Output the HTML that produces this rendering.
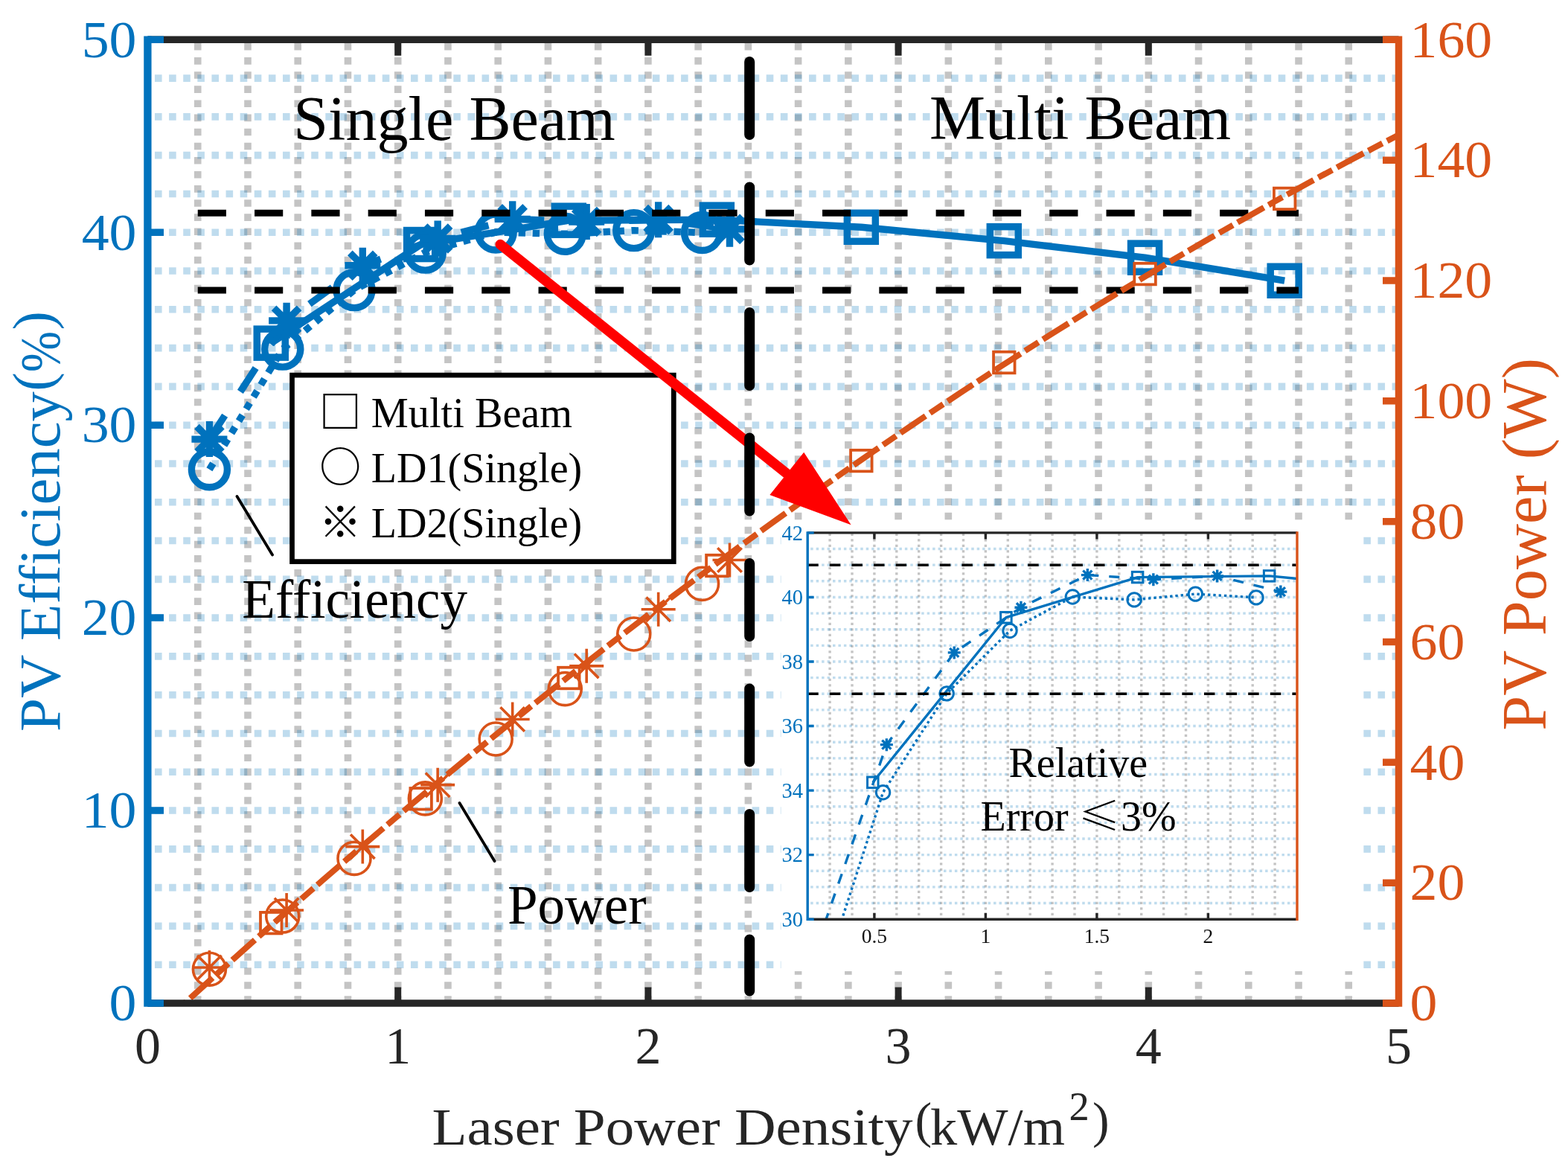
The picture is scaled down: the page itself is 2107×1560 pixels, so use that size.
<!DOCTYPE html>
<html><head><meta charset="utf-8"><title>PV Efficiency and Power vs Laser Power Density</title>
<style>html,body{margin:0;padding:0;background:#fff;width:2107px;height:1560px;overflow:hidden}svg{display:block}</style>
</head><body>
<svg width="2107" height="1560" viewBox="0 0 2107 1560">
<defs>
<clipPath id="cm"><rect x="198.5" y="53.3" width="1681" height="1294.7"/></clipPath>
<clipPath id="ci"><rect x="1085.2" y="715.9" width="657.8" height="519.3"/></clipPath>
</defs>
<rect width="2107" height="1560" fill="#fff"/>
<g clip-path="url(#cm)">
<path d="M265.74 58V1348M332.98 58V1348M400.22 58V1348M467.46 58V1348M534.7 58V1348M601.94 58V1348M669.18 58V1348M736.42 58V1348M803.66 58V1348M870.9 58V1348M938.14 58V1348M1005.38 58V1348M1072.62 58V1348M1139.86 58V1348M1207.1 58V1348M1274.34 58V1348M1341.58 58V1348M1408.82 58V1348M1476.06 58V1348M1543.3 58V1348M1610.54 58V1348M1677.78 58V1348M1745.02 58V1348M1812.26 58V1348" stroke="#262626" stroke-opacity="0.27" stroke-width="9.6" stroke-dasharray="9.6 9.51" fill="none"/>
<path d="M208 1296.21H1879.5M208 1244.42H1879.5M208 1192.64H1879.5M208 1140.85H1879.5M208 1089.06H1879.5M208 1037.27H1879.5M208 985.48H1879.5M208 933.7H1879.5M208 881.91H1879.5M208 830.12H1879.5M208 778.33H1879.5M208 726.54H1879.5M208 674.76H1879.5M208 622.97H1879.5M208 571.18H1879.5M208 519.39H1879.5M208 467.6H1879.5M208 415.82H1879.5M208 364.03H1879.5M208 312.24H1879.5M208 260.45H1879.5M208 208.66H1879.5M208 156.88H1879.5M208 105.09H1879.5" stroke="#0072BD" stroke-opacity="0.25" stroke-width="9.6" stroke-dasharray="9.6 9.51" fill="none"/>
<path d="M364.25 461.13 L565.63 328.55 L764.32 296.19 L963.35 295.15 L1157.34 305.25 L1349.31 323.63 L1538.59 346.16 L1726.19 377.23" fill="none" stroke="#0072BD" stroke-width="9.4" stroke-linejoin="round"/>
<path d="M281.41 630.74 L379.71 469.16 L476 389.66 L571.35 339.17 L666.15 311.98 L759.28 314.31 L851.74 309.65 L943.52 312.5" fill="none" stroke="#0072BD" stroke-width="9.4" stroke-dasharray="9.4 9.6"/>
<path d="M281.41 590.08 L385.09 430.83 L487.3 356.78 L588.16 320.53 L688.68 294.37 L788.19 298 L884.68 295.15 L980.5 307.84" fill="none" stroke="#0072BD" stroke-width="9.4" stroke-dasharray="38 38"/>
<rect x="345.25" y="442.13" width="38" height="38" fill="none" stroke="#0072BD" stroke-width="9.5"/>
<rect x="546.63" y="309.55" width="38" height="38" fill="none" stroke="#0072BD" stroke-width="9.5"/>
<rect x="745.32" y="277.19" width="38" height="38" fill="none" stroke="#0072BD" stroke-width="9.5"/>
<rect x="944.35" y="276.15" width="38" height="38" fill="none" stroke="#0072BD" stroke-width="9.5"/>
<rect x="1138.34" y="286.25" width="38" height="38" fill="none" stroke="#0072BD" stroke-width="9.5"/>
<rect x="1330.31" y="304.63" width="38" height="38" fill="none" stroke="#0072BD" stroke-width="9.5"/>
<rect x="1519.59" y="327.16" width="38" height="38" fill="none" stroke="#0072BD" stroke-width="9.5"/>
<rect x="1707.19" y="358.23" width="38" height="38" fill="none" stroke="#0072BD" stroke-width="9.5"/>
<circle cx="281.41" cy="630.74" r="24" fill="none" stroke="#0072BD" stroke-width="9.4"/>
<circle cx="379.71" cy="469.16" r="24" fill="none" stroke="#0072BD" stroke-width="9.4"/>
<circle cx="476" cy="389.66" r="24" fill="none" stroke="#0072BD" stroke-width="9.4"/>
<circle cx="571.35" cy="339.17" r="24" fill="none" stroke="#0072BD" stroke-width="9.4"/>
<circle cx="666.15" cy="311.98" r="24" fill="none" stroke="#0072BD" stroke-width="9.4"/>
<circle cx="759.28" cy="314.31" r="24" fill="none" stroke="#0072BD" stroke-width="9.4"/>
<circle cx="851.74" cy="309.65" r="24" fill="none" stroke="#0072BD" stroke-width="9.4"/>
<circle cx="943.52" cy="312.5" r="24" fill="none" stroke="#0072BD" stroke-width="9.4"/>
<path d="M257.41 590.08L305.41 590.08M264.44 573.11L298.38 607.05M281.41 566.08L281.41 614.08M298.38 573.11L264.44 607.05" fill="none" stroke="#0072BD" stroke-width="9.4"/>
<path d="M361.09 430.83L409.09 430.83M368.12 413.86L402.06 447.81M385.09 406.83L385.09 454.83M402.06 413.86L368.12 447.81" fill="none" stroke="#0072BD" stroke-width="9.4"/>
<path d="M463.3 356.78L511.3 356.78M470.33 339.81L504.27 373.75M487.3 332.78L487.3 380.78M504.27 339.81L470.33 373.75" fill="none" stroke="#0072BD" stroke-width="9.4"/>
<path d="M564.16 320.53L612.16 320.53M571.19 303.56L605.13 337.5M588.16 296.53L588.16 344.53M605.13 303.56L571.19 337.5" fill="none" stroke="#0072BD" stroke-width="9.4"/>
<path d="M664.68 294.37L712.68 294.37M671.71 277.4L705.65 311.34M688.68 270.37L688.68 318.37M705.65 277.4L671.71 311.34" fill="none" stroke="#0072BD" stroke-width="9.4"/>
<path d="M764.19 298L812.19 298M771.22 281.03L805.17 314.97M788.19 274L788.19 322M805.17 281.03L771.22 314.97" fill="none" stroke="#0072BD" stroke-width="9.4"/>
<path d="M860.68 295.15L908.68 295.15M867.71 278.18L901.65 312.12M884.68 271.15L884.68 319.15M901.65 278.18L867.71 312.12" fill="none" stroke="#0072BD" stroke-width="9.4"/>
<path d="M956.5 307.84L1004.5 307.84M963.53 290.87L997.47 324.81M980.5 283.84L980.5 331.84M997.47 290.87L963.53 324.81" fill="none" stroke="#0072BD" stroke-width="9.4"/>
<path d="M265.74 286.35H1745.02 M265.74 389.92H1745.02" stroke="#000" stroke-width="9" stroke-dasharray="38.2 38.1" fill="none"/>
<path d="M232.12 1362.7 L248.93 1347.31 L265.74 1331.99 L282.55 1316.74 L299.36 1301.56 L316.17 1286.44 L332.98 1271.4 L349.79 1256.42 L366.6 1241.51 L383.41 1226.67 L400.22 1211.9 L417.03 1197.2 L433.84 1182.57 L450.65 1168 L467.46 1153.51 L484.27 1139.08 L501.08 1124.72 L517.89 1110.43 L534.7 1096.21 L551.51 1082.06 L568.32 1067.98 L585.13 1053.96 L601.94 1040.02 L618.75 1026.14 L635.56 1012.33 L652.37 998.59 L669.18 984.92 L685.99 971.32 L702.8 957.79 L719.61 944.32 L736.42 930.93 L753.23 917.6 L770.04 904.34 L786.85 891.15 L803.66 878.03 L820.47 864.98 L837.28 852 L854.09 839.08 L870.9 826.24 L887.71 813.46 L904.52 800.75 L921.33 788.11 L938.14 775.54 L954.95 763.04 L971.76 750.6 L988.57 738.24 L1005.38 725.94 L1022.19 713.72 L1039 701.56 L1055.81 689.47 L1072.62 677.45 L1089.43 665.5 L1106.24 653.61 L1123.05 641.8 L1139.86 630.05 L1156.67 618.37 L1173.48 606.77 L1190.29 595.23 L1207.1 583.75 L1223.91 572.35 L1240.72 561.02 L1257.53 549.75 L1274.34 538.56 L1291.15 527.43 L1307.96 516.37 L1324.77 505.38 L1341.58 494.46 L1358.39 483.61 L1375.2 472.83 L1392.01 462.11 L1408.82 451.46 L1425.63 440.89 L1442.44 430.38 L1459.25 419.94 L1476.06 409.57 L1492.87 399.26 L1509.68 389.03 L1526.49 378.87 L1543.3 368.77 L1560.11 358.74 L1576.92 348.78 L1593.73 338.89 L1610.54 329.07 L1627.35 319.32 L1644.16 309.64 L1660.97 300.02 L1677.78 290.47 L1694.59 281 L1711.4 271.59 L1728.21 262.25 L1745.02 252.98 L1761.83 243.77 L1778.64 234.64 L1795.45 225.58 L1812.26 216.58 L1829.07 207.65 L1845.88 198.79 L1862.69 190 L1879.5 181.28 L1896.31 172.63" fill="none" stroke="#D95319" stroke-width="8" stroke-dasharray="40.7 7.1 21.4 7.1" stroke-dashoffset="44.5"/>
<rect x="350" y="1225.89" width="28.5" height="28.5" fill="none" stroke="#D95319" stroke-width="3.8"/>
<rect x="551.38" y="1059.03" width="28.5" height="28.5" fill="none" stroke="#D95319" stroke-width="3.8"/>
<rect x="750.07" y="896.79" width="28.5" height="28.5" fill="none" stroke="#D95319" stroke-width="3.8"/>
<rect x="949.1" y="745.79" width="28.5" height="28.5" fill="none" stroke="#D95319" stroke-width="3.8"/>
<rect x="1143.09" y="604.83" width="28.5" height="28.5" fill="none" stroke="#D95319" stroke-width="3.8"/>
<rect x="1335.06" y="472.77" width="28.5" height="28.5" fill="none" stroke="#D95319" stroke-width="3.8"/>
<rect x="1524.34" y="353.82" width="28.5" height="28.5" fill="none" stroke="#D95319" stroke-width="3.8"/>
<rect x="1711.94" y="252.68" width="28.5" height="28.5" fill="none" stroke="#D95319" stroke-width="3.8"/>
<circle cx="281.41" cy="1302.28" r="22" fill="none" stroke="#D95319" stroke-width="3.6"/>
<circle cx="379.71" cy="1231.07" r="22" fill="none" stroke="#D95319" stroke-width="3.6"/>
<circle cx="476" cy="1153.39" r="22" fill="none" stroke="#D95319" stroke-width="3.6"/>
<circle cx="571.35" cy="1072.88" r="22" fill="none" stroke="#D95319" stroke-width="3.6"/>
<circle cx="666.15" cy="993.01" r="22" fill="none" stroke="#D95319" stroke-width="3.6"/>
<circle cx="759.28" cy="925.6" r="22" fill="none" stroke="#D95319" stroke-width="3.6"/>
<circle cx="851.74" cy="851.97" r="22" fill="none" stroke="#D95319" stroke-width="3.6"/>
<circle cx="943.52" cy="784.4" r="22" fill="none" stroke="#D95319" stroke-width="3.6"/>
<path d="M258.41 1299.93L304.41 1299.93M265.14 1283.67L297.67 1316.2M281.41 1276.93L281.41 1322.93M297.67 1283.67L265.14 1316.2" fill="none" stroke="#D95319" stroke-width="3.6"/>
<path d="M362.09 1222.98L408.09 1222.98M368.83 1206.72L401.35 1239.24M385.09 1199.98L385.09 1245.98M401.35 1206.72L368.83 1239.24" fill="none" stroke="#D95319" stroke-width="3.6"/>
<path d="M464.3 1137.61L510.3 1137.61M471.03 1121.35L503.56 1153.87M487.3 1114.61L487.3 1160.61M503.56 1121.35L471.03 1153.87" fill="none" stroke="#D95319" stroke-width="3.6"/>
<path d="M565.16 1054.67L611.16 1054.67M571.89 1038.41L604.42 1070.93M588.16 1031.67L588.16 1077.67M604.42 1038.41L571.89 1070.93" fill="none" stroke="#D95319" stroke-width="3.6"/>
<path d="M665.68 966.47L711.68 966.47M672.42 950.2L704.94 982.73M688.68 943.47L688.68 989.47M704.94 950.2L672.42 982.73" fill="none" stroke="#D95319" stroke-width="3.6"/>
<path d="M765.19 894.86L811.19 894.86M771.93 878.59L804.46 911.12M788.19 871.86L788.19 917.86M804.46 878.59L771.93 911.12" fill="none" stroke="#D95319" stroke-width="3.6"/>
<path d="M861.68 818.79L907.68 818.79M868.42 802.53L900.95 835.05M884.68 795.79L884.68 841.79M900.95 802.53L868.42 835.05" fill="none" stroke="#D95319" stroke-width="3.6"/>
<path d="M957.5 752.44L1003.5 752.44M964.24 736.17L996.76 768.7M980.5 729.44L980.5 775.44M996.76 736.17L964.24 768.7" fill="none" stroke="#D95319" stroke-width="3.6"/>
</g>
<rect x="1049.5" y="700" width="776" height="605" fill="#fff"/>
<g clip-path="url(#ci)">
<path d="M1115.1 716.7V1235.2M1145 716.7V1235.2M1174.9 716.7V1235.2M1204.8 716.7V1235.2M1234.7 716.7V1235.2M1264.6 716.7V1235.2M1294.5 716.7V1235.2M1324.4 716.7V1235.2M1354.3 716.7V1235.2M1384.2 716.7V1235.2M1414.1 716.7V1235.2M1444 716.7V1235.2M1473.9 716.7V1235.2M1503.8 716.7V1235.2M1533.7 716.7V1235.2M1563.6 716.7V1235.2M1593.5 716.7V1235.2M1623.4 716.7V1235.2M1653.3 716.7V1235.2M1683.2 716.7V1235.2M1713.1 716.7V1235.2" stroke="#262626" stroke-opacity="0.27" stroke-width="3.4" stroke-dasharray="3.4 4.1" fill="none"/>
<path d="M1089.2 1213.56H1743M1089.2 1191.92H1743M1089.2 1170.29H1743M1089.2 1148.65H1743M1089.2 1127.01H1743M1089.2 1105.38H1743M1089.2 1083.74H1743M1089.2 1062.1H1743M1089.2 1040.46H1743M1089.2 1018.83H1743M1089.2 997.19H1743M1089.2 975.55H1743M1089.2 953.91H1743M1089.2 932.27H1743M1089.2 910.64H1743M1089.2 889H1743M1089.2 867.36H1743M1089.2 845.73H1743M1089.2 824.09H1743M1089.2 802.45H1743M1089.2 780.81H1743M1089.2 759.17H1743M1089.2 737.54H1743" stroke="#0072BD" stroke-opacity="0.25" stroke-width="3.4" stroke-dasharray="3.5 3.95" fill="none"/>
<path d="M1172.81 1051.28 L1351.91 829.71 L1528.62 775.62 L1705.62 773.89 L1878.15 790.77 L2048.88 821.49 L2217.21 859.14 L2384.06 911.07" fill="none" stroke="#0072BD" stroke-width="3.4" stroke-linejoin="round"/>
<path d="M1099.13 1334.73 L1186.56 1064.7 L1272.19 931.84 L1356.99 847.46 L1441.31 802.02 L1524.13 805.91 L1606.36 798.12 L1687.98 802.88" fill="none" stroke="#0072BD" stroke-width="3.4" stroke-dasharray="3.4 3.9"/>
<path d="M1099.13 1266.79 L1191.35 1000.65 L1282.24 876.88 L1371.94 816.3 L1461.34 772.59 L1549.85 778.65 L1635.66 773.89 L1720.87 795.09" fill="none" stroke="#0072BD" stroke-width="3.4" stroke-dasharray="14 14"/>
<rect x="1165.56" y="1044.03" width="14.5" height="14.5" fill="none" stroke="#0072BD" stroke-width="3"/>
<rect x="1344.66" y="822.46" width="14.5" height="14.5" fill="none" stroke="#0072BD" stroke-width="3"/>
<rect x="1521.37" y="768.37" width="14.5" height="14.5" fill="none" stroke="#0072BD" stroke-width="3"/>
<rect x="1698.38" y="766.64" width="14.5" height="14.5" fill="none" stroke="#0072BD" stroke-width="3"/>
<rect x="1870.9" y="783.52" width="14.5" height="14.5" fill="none" stroke="#0072BD" stroke-width="3"/>
<rect x="2041.63" y="814.24" width="14.5" height="14.5" fill="none" stroke="#0072BD" stroke-width="3"/>
<rect x="2209.96" y="851.89" width="14.5" height="14.5" fill="none" stroke="#0072BD" stroke-width="3"/>
<rect x="2376.81" y="903.82" width="14.5" height="14.5" fill="none" stroke="#0072BD" stroke-width="3"/>
<circle cx="1099.13" cy="1334.73" r="9.2" fill="none" stroke="#0072BD" stroke-width="3"/>
<circle cx="1186.56" cy="1064.7" r="9.2" fill="none" stroke="#0072BD" stroke-width="3"/>
<circle cx="1272.19" cy="931.84" r="9.2" fill="none" stroke="#0072BD" stroke-width="3"/>
<circle cx="1356.99" cy="847.46" r="9.2" fill="none" stroke="#0072BD" stroke-width="3"/>
<circle cx="1441.31" cy="802.02" r="9.2" fill="none" stroke="#0072BD" stroke-width="3"/>
<circle cx="1524.13" cy="805.91" r="9.2" fill="none" stroke="#0072BD" stroke-width="3"/>
<circle cx="1606.36" cy="798.12" r="9.2" fill="none" stroke="#0072BD" stroke-width="3"/>
<circle cx="1687.98" cy="802.88" r="9.2" fill="none" stroke="#0072BD" stroke-width="3"/>
<path d="M1090.63 1266.79L1107.63 1266.79M1093.12 1260.78L1105.14 1272.8M1099.13 1258.29L1099.13 1275.29M1105.14 1260.78L1093.12 1272.8" fill="none" stroke="#0072BD" stroke-width="3.4"/>
<path d="M1182.85 1000.65L1199.85 1000.65M1185.33 994.64L1197.36 1006.66M1191.35 992.15L1191.35 1009.15M1197.36 994.64L1185.33 1006.66" fill="none" stroke="#0072BD" stroke-width="3.4"/>
<path d="M1273.74 876.88L1290.74 876.88M1276.23 870.87L1288.25 882.89M1282.24 868.38L1282.24 885.38M1288.25 870.87L1276.23 882.89" fill="none" stroke="#0072BD" stroke-width="3.4"/>
<path d="M1363.44 816.3L1380.44 816.3M1365.93 810.29L1377.95 822.31M1371.94 807.8L1371.94 824.8M1377.95 810.29L1365.93 822.31" fill="none" stroke="#0072BD" stroke-width="3.4"/>
<path d="M1452.84 772.59L1469.84 772.59M1455.33 766.58L1467.35 778.6M1461.34 764.09L1461.34 781.09M1467.35 766.58L1455.33 778.6" fill="none" stroke="#0072BD" stroke-width="3.4"/>
<path d="M1541.35 778.65L1558.35 778.65M1543.84 772.64L1555.86 784.66M1549.85 770.15L1549.85 787.15M1555.86 772.64L1543.84 784.66" fill="none" stroke="#0072BD" stroke-width="3.4"/>
<path d="M1627.16 773.89L1644.16 773.89M1629.65 767.88L1641.67 779.9M1635.66 765.39L1635.66 782.39M1641.67 767.88L1629.65 779.9" fill="none" stroke="#0072BD" stroke-width="3.4"/>
<path d="M1712.37 795.09L1729.37 795.09M1714.86 789.08L1726.88 801.1M1720.87 786.59L1720.87 803.59M1726.88 789.08L1714.86 801.1" fill="none" stroke="#0072BD" stroke-width="3.4"/>
<path d="M1085.2 759.17H1743 M1085.2 932.27H1743" stroke="#000" stroke-width="3.5" stroke-dasharray="14.5 15.1" fill="none"/>
</g>
<path d="M1085.2 715.9H1743 M1085.2 1235.2H1743" stroke="#262626" stroke-width="3.4" fill="none"/>
<path d="M1174.9 715.9v8.5M1174.9 1235.2v-8.5M1324.4 715.9v8.5M1324.4 1235.2v-8.5M1473.9 715.9v8.5M1473.9 1235.2v-8.5M1623.4 715.9v8.5M1623.4 1235.2v-8.5" stroke="#262626" stroke-width="3.4" fill="none"/>
<path d="M1085.2 714.2V1236.9M1085.2 1235.2h8.5M1085.2 1148.65h8.5M1085.2 1062.1h8.5M1085.2 975.55h8.5M1085.2 889h8.5M1085.2 802.45h8.5M1085.2 715.9h8.5" stroke="#0072BD" stroke-width="3.4" fill="none"/>
<path d="M1743 714.2V1236.9" stroke="#D95319" stroke-width="3.4" fill="none"/>
<text x="1079" y="1244.8" text-anchor="end" font-family="Liberation Serif, serif" font-size="28.5" fill="#0072BD">30</text>
<text x="1079" y="1158.25" text-anchor="end" font-family="Liberation Serif, serif" font-size="28.5" fill="#0072BD">32</text>
<text x="1079" y="1071.7" text-anchor="end" font-family="Liberation Serif, serif" font-size="28.5" fill="#0072BD">34</text>
<text x="1079" y="985.15" text-anchor="end" font-family="Liberation Serif, serif" font-size="28.5" fill="#0072BD">36</text>
<text x="1079" y="898.6" text-anchor="end" font-family="Liberation Serif, serif" font-size="28.5" fill="#0072BD">38</text>
<text x="1079" y="812.05" text-anchor="end" font-family="Liberation Serif, serif" font-size="28.5" fill="#0072BD">40</text>
<text x="1079" y="725.5" text-anchor="end" font-family="Liberation Serif, serif" font-size="28.5" fill="#0072BD">42</text>
<text x="1174.9" y="1266.5" text-anchor="middle" font-family="Liberation Serif, serif" font-size="27.5" fill="#111">0.5</text>
<text x="1324.4" y="1266.5" text-anchor="middle" font-family="Liberation Serif, serif" font-size="27.5" fill="#111">1</text>
<text x="1473.9" y="1266.5" text-anchor="middle" font-family="Liberation Serif, serif" font-size="27.5" fill="#111">1.5</text>
<text x="1623.4" y="1266.5" text-anchor="middle" font-family="Liberation Serif, serif" font-size="27.5" fill="#111">2</text>
<text x="1355.5" y="1044.4" font-family="Liberation Serif, serif" font-size="56" fill="#000">Relative</text>
<text x="1317.5" y="1116" font-family="Liberation Serif, serif" font-size="56" fill="#000">Error</text>
<text x="1448.8" y="1115.2" font-family="Noto Serif CJK SC, serif" font-size="51.5" textLength="56.8" lengthAdjust="spacingAndGlyphs" fill="#000">&#x2264;</text>
<text x="1506" y="1116" font-family="Liberation Serif, serif" font-size="56" fill="#000">3%</text>
<rect x="392.5" y="504.1" width="512.8" height="250.5" fill="#fff" stroke="#000" stroke-width="6.7"/>
<text x="498.8" y="574" textLength="270.3" font-family="Liberation Serif, serif" font-size="57.5" fill="#000" lengthAdjust="spacingAndGlyphs">Multi Beam</text>
<text x="498.8" y="648.4" textLength="283.5" font-family="Liberation Serif, serif" font-size="57.5" fill="#000" lengthAdjust="spacingAndGlyphs">LD1(Single)</text>
<text x="498.8" y="722" textLength="283.5" font-family="Liberation Serif, serif" font-size="57.5" fill="#000" lengthAdjust="spacingAndGlyphs">LD2(Single)</text>
<text x="428.8" y="574" font-family="Noto Serif CJK SC, serif" font-size="57" fill="#000">&#x25A1;</text>
<text x="428.8" y="648.4" font-family="Noto Serif CJK SC, serif" font-size="57" fill="#000">&#x25CB;</text>
<text x="428.8" y="722" font-family="Noto Serif CJK SC, serif" font-size="57" fill="#000">&#x203B;</text>
<text x="394.2" y="187.9" font-size="84.2" font-family="Liberation Serif, serif" fill="#000">Single Beam</text>
<text x="1249" y="187.3" font-size="84.3" font-family="Liberation Serif, serif" fill="#000">Multi Beam</text>
<text x="325.3" y="829.6" font-size="73" font-family="Liberation Serif, serif" fill="#000">Efficiency</text>
<text x="682" y="1240.8" font-size="73" font-family="Liberation Serif, serif" fill="#000">Power</text>
<path d="M318.5 667L366 745.5M617.5 1079L664.5 1157" stroke="#000" stroke-width="3.8" stroke-linecap="round" fill="none"/>
<path d="M672.3 328.5L1059.64 638.17" stroke="#f00" stroke-width="13.5" stroke-linecap="round" fill="none"/>
<path d="M1143.6 705.3L1034.38 664.96L1080.21 607.63Z" fill="#f00"/>
<path d="M1007.2 83V1331.5" stroke="#000" stroke-width="14" stroke-linecap="round" stroke-dasharray="98 70.5" fill="none"/>
<path d="M198.5 53.3H1879.5 M198.5 1348H1879.5" stroke="#262626" stroke-width="9.5" fill="none"/>
<path d="M534.7 53.3v21.5M534.7 1348v-21.5M870.9 53.3v21.5M870.9 1348v-21.5M1207.1 53.3v21.5M1207.1 1348v-21.5M1543.3 53.3v21.5M1543.3 1348v-21.5" stroke="#262626" stroke-width="9" fill="none"/>
<path d="M198.4 48.55V1352.75" stroke="#0072BD" stroke-width="10.3" fill="none"/>
<path d="M198.5 1348h21.5M198.5 1089.06h21.5M198.5 830.12h21.5M198.5 571.18h21.5M198.5 312.24h21.5M198.5 53.3h21.5" stroke="#0072BD" stroke-width="9.5" fill="none"/>
<path d="M1879.5 48.55V1352.75M1879.5 1348h-21.5M1879.5 1186.16h-21.5M1879.5 1024.33h-21.5M1879.5 862.49h-21.5M1879.5 700.65h-21.5M1879.5 538.81h-21.5M1879.5 376.98h-21.5M1879.5 215.14h-21.5M1879.5 53.3h-21.5" stroke="#D95319" stroke-width="9.5" fill="none"/>
<text x="146.6" y="1371.3" textLength="36.9" lengthAdjust="spacingAndGlyphs" font-family="Liberation Serif, serif" font-size="70" fill="#0072BD">0</text>
<text x="109.7" y="1112.36" textLength="73.8" lengthAdjust="spacingAndGlyphs" font-family="Liberation Serif, serif" font-size="70" fill="#0072BD">10</text>
<text x="109.7" y="853.42" textLength="73.8" lengthAdjust="spacingAndGlyphs" font-family="Liberation Serif, serif" font-size="70" fill="#0072BD">20</text>
<text x="109.7" y="594.48" textLength="73.8" lengthAdjust="spacingAndGlyphs" font-family="Liberation Serif, serif" font-size="70" fill="#0072BD">30</text>
<text x="109.7" y="335.54" textLength="73.8" lengthAdjust="spacingAndGlyphs" font-family="Liberation Serif, serif" font-size="70" fill="#0072BD">40</text>
<text x="109.7" y="76.6" textLength="73.8" lengthAdjust="spacingAndGlyphs" font-family="Liberation Serif, serif" font-size="70" fill="#0072BD">50</text>
<text x="1894.5" y="1371.3" textLength="36.9" lengthAdjust="spacingAndGlyphs" font-family="Liberation Serif, serif" font-size="70" fill="#D95319">0</text>
<text x="1894.5" y="1209.46" textLength="73.8" lengthAdjust="spacingAndGlyphs" font-family="Liberation Serif, serif" font-size="70" fill="#D95319">20</text>
<text x="1894.5" y="1047.62" textLength="73.8" lengthAdjust="spacingAndGlyphs" font-family="Liberation Serif, serif" font-size="70" fill="#D95319">40</text>
<text x="1894.5" y="885.79" textLength="73.8" lengthAdjust="spacingAndGlyphs" font-family="Liberation Serif, serif" font-size="70" fill="#D95319">60</text>
<text x="1894.5" y="723.95" textLength="73.8" lengthAdjust="spacingAndGlyphs" font-family="Liberation Serif, serif" font-size="70" fill="#D95319">80</text>
<text x="1894.5" y="562.11" textLength="110.7" lengthAdjust="spacingAndGlyphs" font-family="Liberation Serif, serif" font-size="70" fill="#D95319">100</text>
<text x="1894.5" y="400.28" textLength="110.7" lengthAdjust="spacingAndGlyphs" font-family="Liberation Serif, serif" font-size="70" fill="#D95319">120</text>
<text x="1894.5" y="238.44" textLength="110.7" lengthAdjust="spacingAndGlyphs" font-family="Liberation Serif, serif" font-size="70" fill="#D95319">140</text>
<text x="1894.5" y="76.6" textLength="110.7" lengthAdjust="spacingAndGlyphs" font-family="Liberation Serif, serif" font-size="70" fill="#D95319">160</text>
<text x="198.5" y="1428.5" text-anchor="middle" font-family="Liberation Serif, serif" font-size="70" fill="#262626">0</text>
<text x="534.7" y="1428.5" text-anchor="middle" font-family="Liberation Serif, serif" font-size="70" fill="#262626">1</text>
<text x="870.9" y="1428.5" text-anchor="middle" font-family="Liberation Serif, serif" font-size="70" fill="#262626">2</text>
<text x="1207.1" y="1428.5" text-anchor="middle" font-family="Liberation Serif, serif" font-size="70" fill="#262626">3</text>
<text x="1543.3" y="1428.5" text-anchor="middle" font-family="Liberation Serif, serif" font-size="70" fill="#262626">4</text>
<text x="1879.5" y="1428.5" text-anchor="middle" font-family="Liberation Serif, serif" font-size="70" fill="#262626">5</text>
<g transform="translate(80 981) rotate(-90)">
<text x="-2" y="0" font-size="78" textLength="457" lengthAdjust="spacingAndGlyphs" font-family="Liberation Serif, serif" fill="#0072BD">PV Efficiency</text>
<text x="455.5" y="-10.5" font-size="76" font-family="Liberation Serif, serif" fill="#0072BD">(</text>
<text x="481" y="0" font-size="76" textLength="55" lengthAdjust="spacingAndGlyphs" font-family="Liberation Serif, serif" fill="#0072BD">%</text>
<text x="537.5" y="-10.5" font-size="76" font-family="Liberation Serif, serif" fill="#0072BD">)</text>
</g>
<text transform="translate(2076.5 731.5) rotate(-90)" text-anchor="middle" font-family="Liberation Serif, serif" font-size="84.5" fill="#D95319">PV Power (W)</text>
<text x="580.5" y="1538" font-size="70" textLength="646" lengthAdjust="spacingAndGlyphs" font-family="Liberation Serif, serif" fill="#262626">Laser Power Density</text>
<text x="1229.5" y="1528" font-size="68" font-family="Liberation Serif, serif" fill="#262626">(</text>
<text x="1250" y="1538" font-size="70" textLength="181" lengthAdjust="spacingAndGlyphs" font-family="Liberation Serif, serif" fill="#262626">kW/m</text>
<text x="1436.5" y="1504.8" font-size="54.5" font-family="Liberation Serif, serif" fill="#262626">2</text>
<text x="1468" y="1528" font-size="68" font-family="Liberation Serif, serif" fill="#262626">)</text>
</svg>
</body></html>
